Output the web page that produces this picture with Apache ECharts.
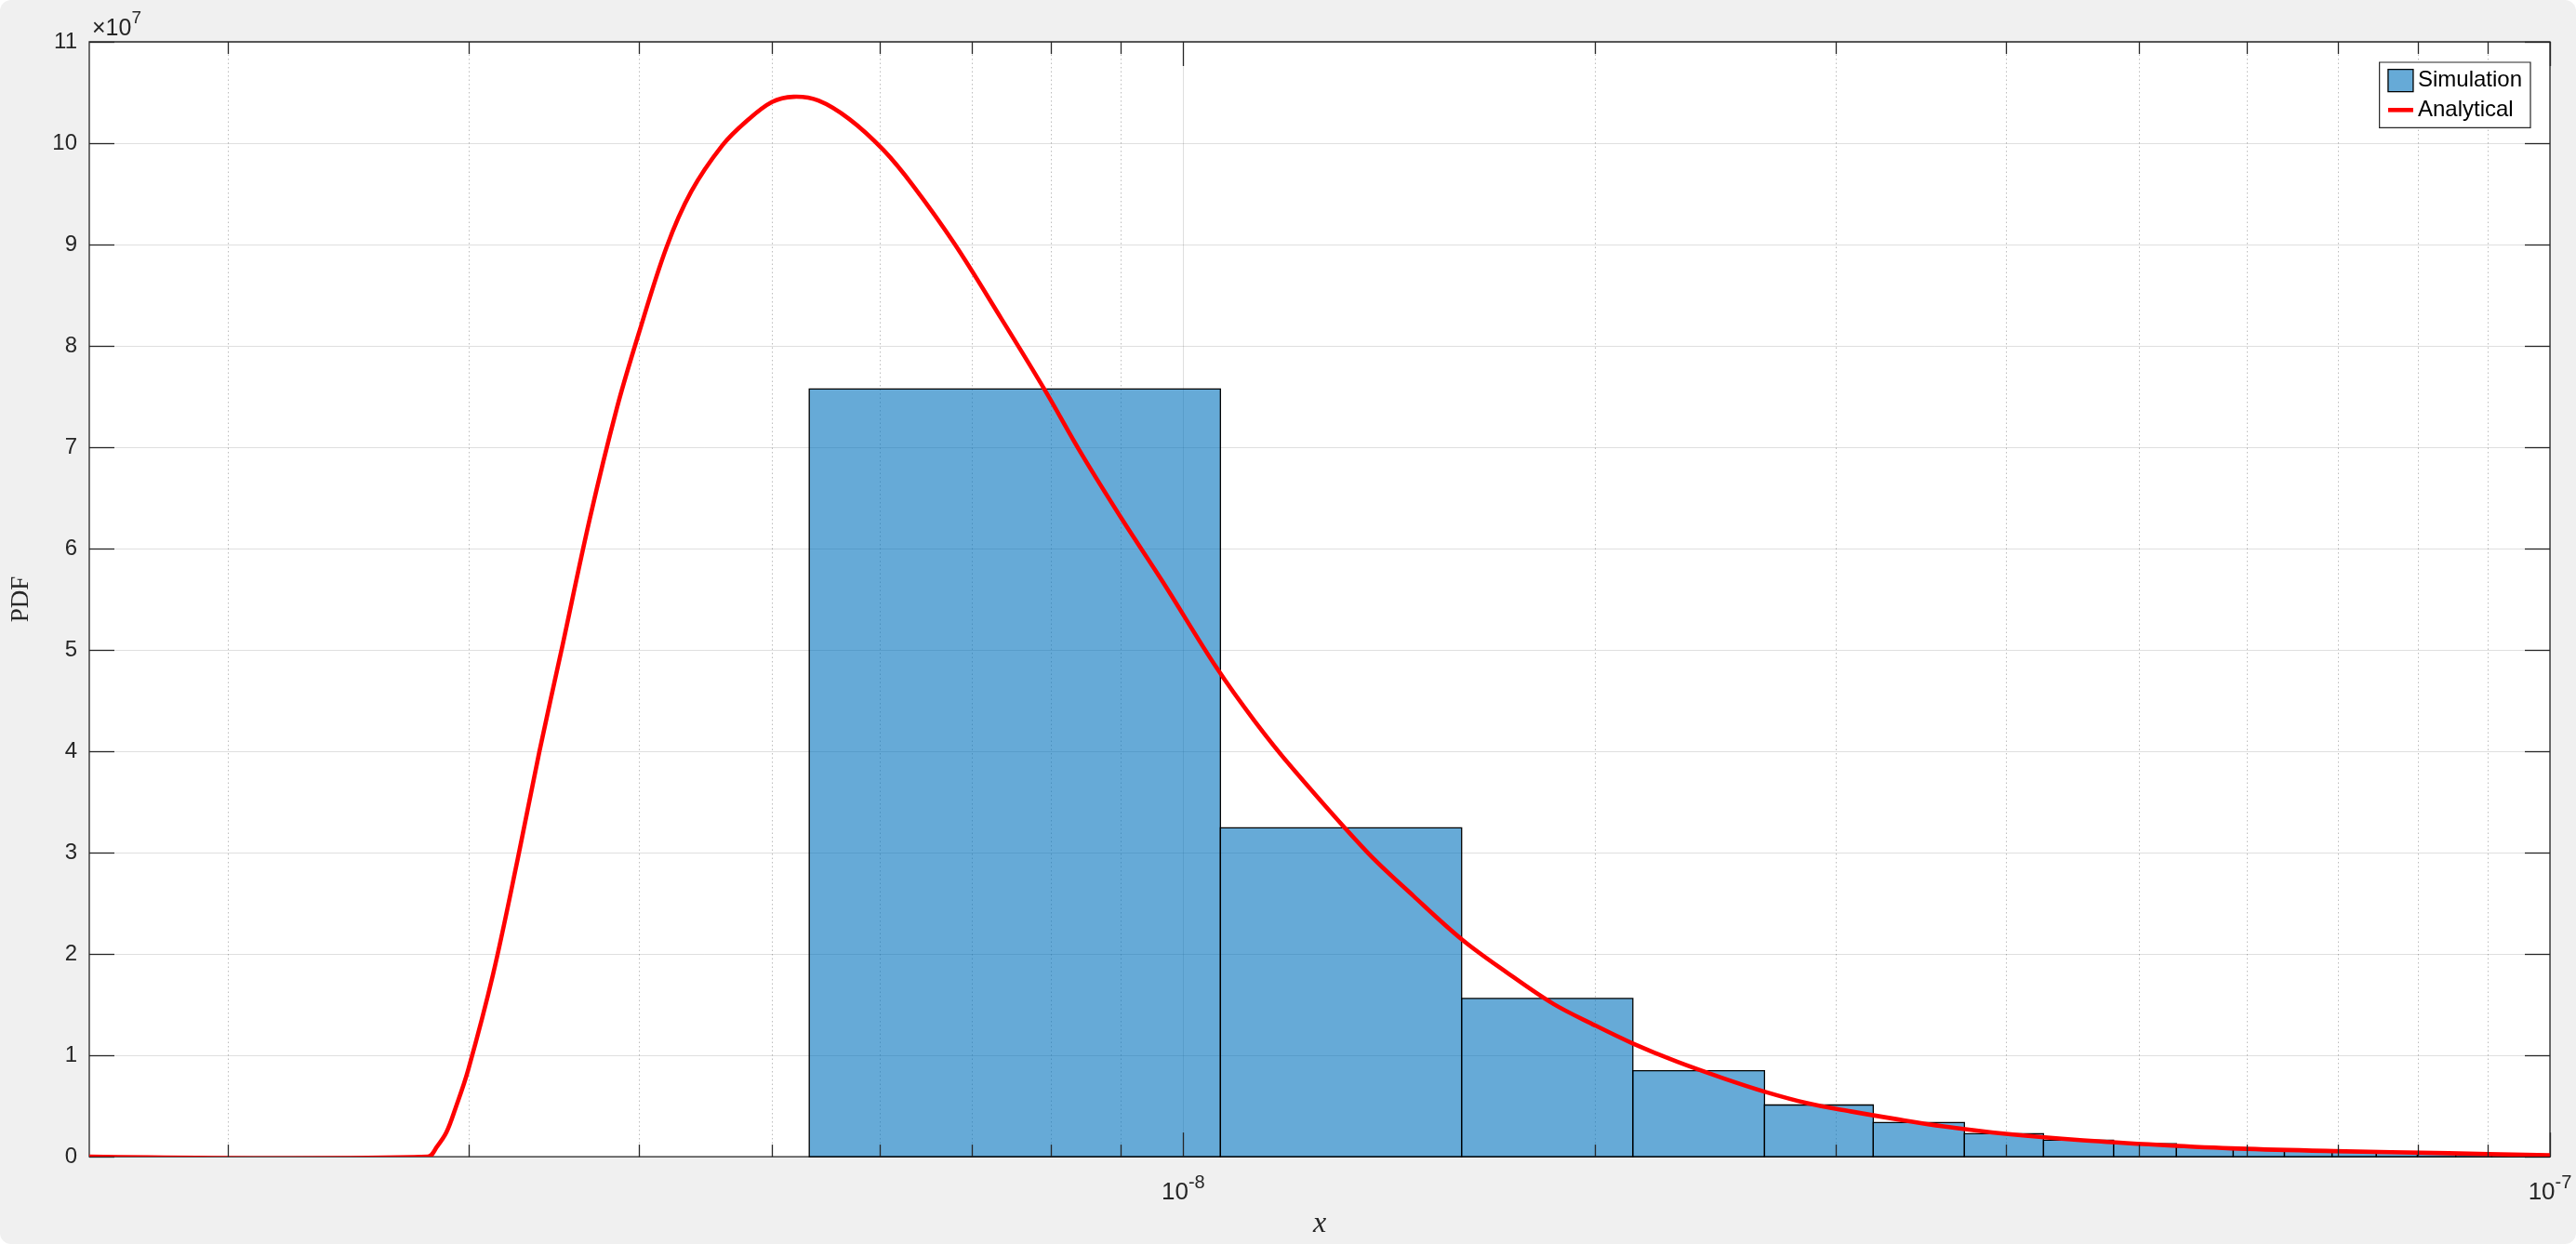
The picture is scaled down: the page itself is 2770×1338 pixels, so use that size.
<!DOCTYPE html>
<html>
<head>
<meta charset="utf-8">
<script src="https://cdn.jsdelivr.net/npm/echarts@6/dist/echarts.min.js"></script>
<style>
  html, body { margin: 0; padding: 0; background: #ffffff; }
  #chart { width: 2770px; height: 1338px; background: #f0f0f0; border-radius: 12px; }
</style>
</head>
<body>
<div id="chart"></div>
<script>
// ---------------- data (y values in units of 10^7) ----------------
const xMin = 1.5835e-9;
const xMax = 1e-7;
const yMax = 11;
const yExponent = 7;

// histogram bin edges (x) and PDF heights
const binEdges = [5.326e-9, 1.0647e-8, 1.5985e-8, 2.1329e-8, 2.6626e-8, 3.1981e-8, 3.7287e-8,
  4.2603e-8, 4.7940e-8, 5.3297e-8, 5.8649e-8, 6.3933e-8, 6.9267e-8, 7.4642e-8, 7.999e-8,
  8.532e-8, 9.066e-8, 9.599e-8, 1.0132e-7];
const binValues = [7.575, 3.244, 1.561, 0.848, 0.510, 0.336, 0.226, 0.162, 0.128, 0.097,
  0.074, 0.060, 0.050, 0.042, 0.035, 0.030, 0.026, 0.022];

// analytical PDF curve
const curveX = [1.5835e-9, 2.8012e-9, 2.8449e-9, 2.8903e-9, 2.9359e-9, 2.9976e-9, 3.1257e-9,
  3.2592e-9, 3.3804e-9, 3.5060e-9, 3.6787e-9, 3.8514e-9, 3.9951e-9, 4.1870e-9,
  4.3651e-9, 4.6005e-9, 4.7962e-9, 5.0012e-9, 5.1870e-9, 5.4087e-9, 5.6982e-9, 6.0355e-9,
  6.3430e-9, 6.8066e-9, 7.3600e-9, 7.9180e-9, 8.4309e-9, 9.0232e-9, 9.6568e-9, 1.0580e-8,
  1.1276e-8, 1.2025e-8, 1.3630e-8, 1.4743e-8, 1.5985e-8, 1.7245e-8, 1.8650e-8, 2.0012e-8, 2.1329e-8,
  2.2979e-8, 2.4852e-8, 2.6626e-8, 2.8614e-8, 3.0787e-8, 3.3307e-8, 3.6007e-8, 3.9977e-8,
  4.5545e-8, 5.1894e-8, 5.9148e-8, 6.9516e-8, 8.4303e-8, 1e-7];
const curveY = [0, 0, 0.10, 0.241, 0.485, 0.853, 1.794,
  2.938, 3.999, 4.979, 6.287, 7.385, 8.117, 8.971,
  9.521, 9.978, 10.222, 10.406, 10.458, 10.421, 10.238, 9.932,
  9.582, 9.002, 8.270, 7.568, 6.928, 6.287, 5.677, 4.823,
  4.30, 3.83, 3.006, 2.571, 2.146, 1.819, 1.509, 1.296, 1.117,
  0.937, 0.773, 0.642, 0.528, 0.447, 0.369, 0.299, 0.226,
  0.162, 0.116, 0.080, 0.055, 0.034, 0.014];

// x-axis tick values
const majorTicksX = [1e-8, 1e-7];
const minorTicksX = [2e-9, 3e-9, 4e-9, 5e-9, 6e-9, 7e-9, 8e-9, 9e-9,
  2e-8, 3e-8, 4e-8, 5e-8, 6e-8, 7e-8, 8e-8, 9e-8];

// ---------------- build ----------------
const AX = '#262626';
const FONT = 'Liberation Sans';
const SERIF = 'Liberation Serif';
const BAR_FILL = 'rgba(0,114,189,0.6)';
const RED = '#ff0000';
const CURVE_W = 4.6;

const barData = binValues.map((v, i) => [binEdges[i], binEdges[i + 1], v]);
const curveData = curveX.map((x, i) => [x, curveY[i]]);
const tickData = majorTicksX.map(v => [v, 1]).concat(minorTicksX.map(v => [v, 0]));

const chart = echarts.init(document.getElementById('chart'), null, { renderer: 'canvas' });

function clipRect(r, cs) {
  return echarts.graphic.clipRectByRect(r, { x: cs.x, y: cs.y, width: cs.width, height: cs.height });
}

const option = {
  animation: false,
  backgroundColor: 'transparent',
  grid: {
    left: 96, right: 28, top: 45, bottom: 91,
    show: true, backgroundColor: '#ffffff', borderColor: AX, borderWidth: 1.3
  },
  xAxis: [{
    type: 'log', logBase: 10, min: xMin, max: xMax,
    axisLine: { show: false }, axisTick: { show: false }, splitLine: { show: false },
    minorTick: { show: false }, minorSplitLine: { show: false },
    axisLabel: {
      margin: 18,
      showMinLabel: true, showMaxLabel: true,
      formatter: function (v) {
        const e = Math.round(Math.log10(v));
        if (Math.abs(Math.log10(v) - e) > 1e-6) return '';
        return '{b|10}{s|' + e + '}';
      },
      rich: {
        b: { fontSize: 26, fontFamily: FONT, color: AX, lineHeight: 34, verticalAlign: 'bottom' },
        s: { fontSize: 20, fontFamily: FONT, color: AX, lineHeight: 34, verticalAlign: 'top' }
      }
    },
    name: 'x', nameLocation: 'middle', nameGap: 52,
    nameTextStyle: { fontFamily: SERIF, fontStyle: 'italic', fontSize: 32, color: AX }
  }],
  yAxis: [{
    type: 'value', min: 0, max: yMax, interval: 1, position: 'left',
    axisLine: { show: false },
    axisTick: { show: true, inside: true, length: 27, lineStyle: { color: AX, width: 1.3 } },
    axisLabel: { margin: 13, fontSize: 24, fontFamily: FONT, color: AX },
    splitLine: { show: true, lineStyle: { color: 'rgba(38,38,38,0.15)', width: 1 } },
    name: 'PDF', nameLocation: 'middle', nameGap: 60, nameRotate: 90,
    nameTextStyle: { fontFamily: SERIF, fontSize: 27, color: AX }
  }, {
    type: 'value', min: 0, max: yMax, interval: 1, position: 'right',
    axisLine: { show: false },
    axisTick: { show: true, inside: true, length: 27, lineStyle: { color: AX, width: 1.3 } },
    axisLabel: { show: false }, splitLine: { show: false }
  }],
  legend: {
    orient: 'vertical', right: 49, top: 67,
    backgroundColor: '#ffffff', borderColor: AX, borderWidth: 1.2, borderRadius: 0,
    padding: [7, 9, 7, 7], itemGap: 7, itemWidth: 27, itemHeight: 24,
    textStyle: { fontSize: 24, fontFamily: FONT, color: '#000' },
    data: [
      { name: 'Simulation', icon: 'rect', itemStyle: { color: BAR_FILL, borderColor: '#000', borderWidth: 1.3 } },
      { name: 'Analytical', itemStyle: { opacity: 0 }, lineStyle: { color: RED, width: CURVE_W } }
    ]
  },
  graphic: [{
    type: 'text', left: 99, top: 10,
    style: {
      text: '{a|×10}{s|' + yExponent + '}',
      rich: {
        a: { fontSize: 25, fontFamily: FONT, fill: AX, lineHeight: 34, verticalAlign: 'bottom' },
        s: { fontSize: 19, fontFamily: FONT, fill: AX, lineHeight: 34, verticalAlign: 'top' }
      }
    }
  }],
  series: [
    {
      // x grid lines (major solid, minor dotted)
      type: 'custom', name: 'xgrid', z: 1, silent: true,
      data: tickData,
      encode: { x: 0 },
      renderItem: function (params, api) {
        const cs = params.coordSys;
        const x = Math.round(api.coord([api.value(0), 0])[0]) + 0.5;
        const major = api.value(1) === 1;
        return {
          type: 'line',
          shape: { x1: x, y1: cs.y, x2: x, y2: cs.y + cs.height },
          style: major
            ? { stroke: 'rgba(38,38,38,0.15)', lineWidth: 1 }
            : { stroke: 'rgba(38,38,38,0.3)', lineWidth: 1, lineDash: [1.5, 3] }
        };
      }
    },
    {
      type: 'custom', name: 'Simulation', z: 2,
      data: barData,
      encode: { x: [0, 1], y: 2 },
      itemStyle: { color: BAR_FILL, borderColor: '#000', borderWidth: 1.3 },
      renderItem: function (params, api) {
        const p0 = api.coord([api.value(0), api.value(2)]);
        const p1 = api.coord([api.value(1), 0]);
        const shape = clipRect({ x: p0[0], y: p0[1], width: p1[0] - p0[0], height: p1[1] - p0[1] }, params.coordSys);
        if (!shape) return null;
        return {
          type: 'rect', shape: shape,
          style: { fill: BAR_FILL, stroke: '#000', lineWidth: 1.3 }
        };
      }
    },
    {
      // legend entry for the analytical curve (curve itself drawn by the custom series below)
      type: 'line', name: 'Analytical', z: 5, data: [],
      symbol: 'none', showSymbol: false,
      lineStyle: { color: RED, width: CURVE_W }, itemStyle: { color: RED }
    },
    {
      // analytical curve: a smooth polyline through the read points, via the axes' scales
      type: 'custom', name: 'AnalyticalCurve', z: 5, silent: true,
      data: [[curveX[0], curveY[0]]],
      encode: { x: 0, y: 1 },
      renderItem: function (params, api) {
        const cs = params.coordSys;
        const pts = curveData.map(d => api.coord(d));
        return {
          type: 'polyline',
          shape: { points: pts, smooth: 0.35, smoothConstraint: false },
          clipPath: { type: 'rect', shape: { x: cs.x, y: cs.y - 3, width: cs.width, height: cs.height + 3 } },
          style: { stroke: RED, lineWidth: CURVE_W, fill: null, lineJoin: 'round' }
        };
      }
    },
    {
      // x ticks (inside, bottom and top)
      type: 'custom', name: 'xticks', z: 10, silent: true,
      data: tickData,
      encode: { x: 0 },
      renderItem: function (params, api) {
        const cs = params.coordSys;
        const x = Math.round(api.coord([api.value(0), 0])[0]) + 0.5;
        const len = api.value(1) === 1 ? 26 : 13;
        const st = { stroke: AX, lineWidth: 1.3 };
        return {
          type: 'group',
          children: [
            { type: 'line', shape: { x1: x, y1: cs.y + cs.height, x2: x, y2: cs.y + cs.height - len }, style: st },
            { type: 'line', shape: { x1: x, y1: cs.y, x2: x, y2: cs.y + len }, style: st }
          ]
        };
      }
    }
  ]
};
chart.setOption(option);
</script>
</body>
</html>
